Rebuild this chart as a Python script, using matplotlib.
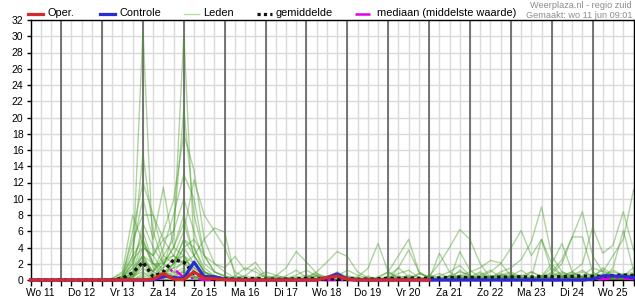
import numpy as np
import matplotlib
matplotlib.use("Agg")
import matplotlib.pyplot as plt
from matplotlib.lines import Line2D

plt.rcParams['font.family'] = ['Liberation Sans', 'DejaVu Sans']

# time axis: hours after Wo 11 00:00, 6-hourly steps
hours = list(range(6, 361, 6))
day_labels = ["Wo 11", "Do 12", "Vr 13", "Za 14", "Zo 15", "Ma 16", "Di 17", "Wo 18",
              "Do 19", "Vr 20", "Za 21", "Zo 22", "Ma 23", "Di 24", "Wo 25"]

# ---- ensemble members (mm), rows of 12 values = 3 days each ----
m01 = [0, 0, 0, 0, 0, 0, 0, 0, 0, 0.3, 2.0, 30.7,
       3.0, 1.0, 0.5, 1.2, 0.4, 0.2, 0, 0, 0.3, 0.5, 0.2, 0,
       0, 0.2, 0.4, 0, 0, 0, 0.1, 0, 0, 0, 0.2, 0,
       0, 0.3, 0, 0, 0.5, 1.0, 0.2, 0, 0, 0.4, 0.8, 0.3,
       0, 0.5, 0.2, 0, 0, 0.6, 1.2, 0.4, 0, 0.3, 0.8, 0.5]
m02 = [0, 0, 0, 0, 0, 0, 0, 0, 0, 0, 0.5, 2.5,
       1.0, 3.0, 5.0, 30.2, 4.0, 1.5, 0.5, 0.2, 0, 0, 0.2, 0.1,
       0, 0, 0.3, 0.6, 0.2, 0, 0, 0, 0, 0.3, 0, 0,
       1.5, 0.4, 0, 0, 0, 0.5, 0.3, 0, 0.2, 0, 0, 0.6,
       0.4, 0, 0, 0.8, 0.3, 0, 0, 0.5, 0.2, 0, 0.6, 1.0]
m03 = [0, 0, 0, 0, 0, 0, 0, 0, 0, 0.5, 3.0, 15.5,
       6.0, 2.0, 4.0, 8.0, 3.0, 1.0, 0.3, 0, 0, 0.2, 0, 0,
       0, 0.5, 1.2, 0.3, 0, 0, 0, 0, 0.2, 0, 0, 0.4,
       0.2, 0, 0, 0.6, 0.3, 0, 0, 0.3, 0.8, 0.2, 0, 0,
       0, 1.0, 0.5, 0.2, 0, 0, 0.4, 0.3, 1.5, 0.6, 0.2, 0.4]
m04 = [0, 0, 0, 0, 0, 0, 0, 0, 0, 0, 1.0, 5.0,
       2.0, 1.5, 6.0, 21.0, 8.0, 3.0, 1.0, 0.5, 0.2, 0, 0, 0,
       0.3, 0, 0, 0.2, 0.5, 0.2, 0, 0, 0, 0, 0.4, 1.0,
       0.3, 0, 0, 0.2, 0, 0, 1.2, 0.4, 0, 0, 0.5, 0.2,
       0, 0, 0.5, 0.3, 0, 0.8, 0.4, 0, 0.3, 0.5, 0.2, 0]
m05 = [0, 0, 0, 0, 0, 0, 0, 0, 0, 0.2, 6.0, 12.0,
       8.0, 5.0, 3.0, 2.0, 1.5, 0.5, 0, 0, 0, 0.5, 1.5, 0.3,
       0, 0, 0, 0.4, 0.8, 0.3, 0, 0, 0, 0, 0, 0.3,
       0.8, 1.2, 0.3, 0, 0, 0, 0.4, 0, 0.6, 1.2, 0.3, 0,
       0.2, 0.3, 0, 0, 0.5, 1.0, 0.3, 0, 0, 0.2, 0.5, 1.5]
m06 = [0, 0, 0, 0, 0, 0, 0, 0, 0, 0, 0.5, 4.0,
       3.0, 6.0, 9.8, 18.0, 13.5, 5.0, 2.0, 1.0, 0.3, 0, 0, 0,
       0, 0.3, 0, 0, 0.2, 0.5, 0.3, 0, 0, 0, 0, 0.2,
       0, 0, 0.8, 0.3, 0, 0, 0, 0.4, 0.2, 0, 0.3, 0.5,
       1.2, 0.4, 0, 0, 0.3, 0, 0, 0.6, 0.2, 0.4, 0, 0.3]
m07 = [0, 0, 0, 0, 0, 0, 0, 0, 0, 0.5, 4.0, 10.0,
       5.0, 11.4, 4.0, 3.0, 2.0, 0.8, 0.3, 0, 0, 0, 0.3, 0.5,
       0.2, 0, 0, 0, 0, 0.3, 0.6, 0.2, 0, 0, 0, 0,
       0, 0, 0.2, 0, 0, 0.5, 0, 0, 0, 0.3, 0.6, 1.0,
       0.4, 0, 0.3, 0.2, 0, 0, 0.3, 0.8, 0.4, 0, 0, 0.6]
m08 = [0, 0, 0, 0, 0, 0, 0, 0, 0, 0, 0.3, 2.0,
       1.0, 4.0, 8.0, 13.0, 10.0, 3.0, 1.0, 0.4, 0, 0.2, 0, 0,
       0, 0, 0, 0.2, 0, 0, 0, 0.4, 0.2, 0, 0.3, 0,
       0, 0.4, 0, 0, 0, 0, 0.2, 0.5, 0, 0, 0, 0.3,
       0.6, 0.2, 0, 0.4, 0.3, 0, 0, 0, 0.6, 0.3, 0.3, 0.2]
m09 = [0, 0, 0, 0, 0, 0, 0, 0, 0.2, 0.8, 5.0, 8.0,
       8.0, 3.0, 2.0, 5.0, 3.0, 1.0, 0.5, 0.2, 0, 0, 0, 0,
       0, 0, 0, 0, 0, 0, 0.2, 0.5, 0.3, 0, 0, 0,
       0, 0, 0, 0, 0.3, 0.2, 0, 0, 0, 0, 0.2, 0.4,
       0.3, 0, 0, 0, 0, 0.4, 0.2, 0, 0.3, 0.5, 0, 0]
m10 = [0, 0, 0, 0, 0, 0, 0, 0, 0, 0, 0.8, 3.0,
       2.0, 2.0, 3.0, 6.0, 12.3, 8.0, 6.0, 4.0, 1.0, 0.3, 0, 0,
       0, 0, 0, 0, 0.5, 0.2, 0, 0, 0, 0, 0, 0,
       0, 0, 0, 0, 0, 0, 0, 0.2, 0, 0, 0, 0,
       0, 0, 0.3, 0, 0, 0, 0.2, 0, 0, 0, 0.2, 0.5]
m11 = [0, 0, 0, 0, 0, 0, 0, 0, 0, 0.3, 2.0, 6.0,
       2.0, 1.0, 1.5, 4.0, 2.0, 0.5, 0.2, 0, 0, 0, 0, 0.2,
       0.5, 0.3, 0, 0, 0, 0, 0, 0, 0, 0.2, 0, 0,
       0, 0, 0.3, 0, 0, 0.2, 0.5, 0.2, 0, 0.3, 1.0, 1.5,
       2.5, 4.7, 9.0, 3.0, 1.0, 0.5, 0.2, 0, 0.3, 1.0, 0.6, 0.2]
m12 = [0, 0, 0, 0, 0, 0, 0, 0, 0, 0, 1.5, 7.0,
       4.0, 2.0, 1.0, 0.5, 0.3, 0.2, 0, 0, 0, 0, 0, 0,
       0, 0, 0, 0.3, 0.6, 0.2, 0, 0, 0, 0.5, 0, 0,
       0, 0, 0, 0.5, 2.0, 4.0, 6.2, 5.0, 2.0, 0.3, 0, 0,
       0, 0, 0.4, 1.5, 0.5, 0, 0, 0.3, 0.6, 0.2, 0, 0.2]
m13 = [0, 0, 0, 0, 0, 0, 0, 0, 0.2, 1.0, 8.0, 4.5,
       2.0, 0.5, 2.0, 3.0, 1.0, 0.3, 0, 0, 0, 0, 0.3, 0,
       0, 0, 0, 0, 0, 0, 0, 0, 0.4, 1.4, 4.5, 1.0,
       0.2, 0, 0, 0, 0, 0, 0.3, 0.2, 0, 0, 0.3, 0.5,
       0.2, 0, 0.3, 1.0, 2.5, 5.3, 8.4, 3.0, 1.0, 0.5, 0.2, 0.8]
m14 = [0, 0, 0, 0, 0, 0, 0, 0, 0, 0.5, 3.0, 5.0,
       1.5, 0.5, 0.3, 1.0, 0.5, 0, 0, 0, 0, 0, 0, 0,
       0, 0, 0, 0, 0, 0, 0, 0.3, 0, 0, 0.2, 1.0,
       3.0, 5.0, 1.0, 0.2, 0, 0, 0, 0, 0.3, 0.5, 0, 0,
       0, 0.3, 0.5, 0, 0, 0.2, 0.5, 1.5, 1.0, 3.0, 5.0, 11.1]
m15 = [0, 0, 0, 0, 0, 0, 0, 0, 0, 0.2, 2.5, 4.0,
       3.0, 5.0, 6.0, 10.0, 6.0, 2.0, 1.0, 0.5, 0.2, 0, 0, 0,
       0, 0, 0, 0.2, 0, 0, 0, 0, 0, 0, 0, 0.3,
       0.5, 0.2, 0, 0, 0, 0.3, 0.6, 0.3, 0, 0, 0, 0.2,
       0.3, 0, 0, 0, 0.4, 1.0, 2.0, 6.5, 3.3, 4.3, 8.4, 3.7]
m16 = [0, 0, 0, 0, 0, 0, 0, 0, 0, 0, 1.0, 3.0,
       1.0, 0.5, 2.0, 5.0, 4.0, 1.0, 0.3, 0, 0, 0, 0, 0,
       0.5, 1.5, 3.5, 2.2, 0.8, 0.2, 0, 0, 0, 0, 0, 0,
       0, 0, 0, 0, 0.3, 0.5, 0.2, 0, 0.4, 1.0, 2.0, 3.9,
       6.1, 3.0, 5.0, 2.0, 0.5, 0.2, 0, 0, 0.3, 0.2, 0, 0]
m17 = [0, 0, 0, 0, 0, 0, 0, 0, 0, 0.3, 1.5, 3.0,
       0.5, 2.0, 4.0, 7.0, 3.0, 1.0, 0.5, 0.2, 0, 0, 0, 0,
       0, 0, 0, 0.3, 1.0, 2.2, 3.5, 2.9, 1.0, 0.3, 0, 0,
       0, 0, 0, 0, 0, 0, 0, 0, 0.2, 0.5, 0.3, 0,
       0, 0, 0, 0.5, 1.0, 0.4, 0, 0, 0.5, 1.2, 0.6, 0.3]
m18 = [0, 0, 0, 0, 0, 0, 0, 0, 0, 0, 0.5, 2.5,
       1.0, 2.5, 3.0, 2.0, 3.0, 5.0, 6.4, 5.9, 0.5, 0.2, 0, 0,
       0, 0, 0, 0, 0, 0, 0, 0, 0, 0, 0, 0.2,
       0.3, 0, 0.8, 0.4, 0, 0, 0, 0, 0, 0, 0, 0,
       0, 0, 0, 0, 0.2, 0.4, 0.2, 0, 0, 0, 0.3, 0.6]
m19 = [0, 0, 0, 0, 0, 0, 0, 0, 0, 0, 0.3, 2.0,
       0.5, 1.0, 2.0, 4.0, 5.0, 3.0, 2.0, 1.5, 2.9, 1.2, 2.2, 0.5,
       0.2, 0, 0, 0, 0, 0, 0, 0, 0, 0, 0, 0,
       0, 0.2, 0, 0, 3.3, 1.0, 1.8, 0.5, 0, 0, 0, 0,
       0, 0, 0, 0.3, 0.8, 0.3, 0, 0, 0, 0.2, 0.5, 0.2]
m20 = [0, 0, 0, 0, 0, 0, 0, 0, 0, 0, 0.2, 1.5,
       0.3, 0.5, 1.0, 2.5, 1.5, 0.5, 0.2, 0, 0, 0, 0, 0,
       0, 0, 0, 0, 0, 0, 0, 0, 0, 0, 0, 0.5,
       1.5, 3.7, 1.0, 0.3, 0, 0, 3.5, 1.2, 0.3, 0, 0.5, 0.8,
       0.3, 0.2, 5.0, 1.0, 0.3, 0, 0, 0.3, 0.8, 0.4, 0.2, 0.3]
m21 = [0, 0, 0, 0, 0, 0, 0, 0, 0, 0, 0.5, 1.0,
       0.3, 1.5, 2.5, 3.0, 1.0, 0.3, 0, 0, 0.5, 1.5, 1.0, 0.3,
       0, 0, 0, 0, 0, 0, 0, 0, 0, 0, 0, 0,
       0, 0, 0, 0, 0, 0, 0.5, 1.0, 1.5, 2.4, 2.1, 0.5,
       0.2, 0, 0.5, 2.0, 4.5, 1.0, 0.3, 0, 0, 0.3, 0.6, 0.4]
m22 = [0, 0, 0, 0, 0, 0, 0, 0, 0, 0, 0, 0.8,
       0.2, 0.5, 1.5, 2.0, 0.8, 0.3, 0, 0, 0, 0, 0, 0,
       0, 0.2, 0.6, 1.2, 0.5, 0, 0, 0, 0, 0, 0, 0,
       0, 0, 0, 0, 0, 0.5, 1.0, 0.6, 0.2, 0, 0, 0.3,
       0.5, 1.0, 0.3, 0.8, 2.0, 5.3, 5.3, 1.0, 0.3, 0, 0.2, 0.6]
m23 = [0, 0, 0, 0, 0, 0, 0, 0, 0, 0, 0, 0.5,
       0.2, 0.3, 0.8, 1.5, 0.5, 0, 0, 0, 0, 0, 0.3, 1.0,
       0.6, 0.2, 0, 0, 0, 0, 0.5, 1.2, 0.6, 0.2, 0, 0,
       0.2, 0.6, 0.3, 0, 0, 0, 0, 0.4, 1.0, 0.3, 0, 0,
       0, 0.3, 0.2, 0, 0, 0.4, 1.0, 0.5, 0.2, 1.5, 6.1, 1.2]
m24 = [0, 0, 0, 0, 0, 0, 0, 0, 0, 0, 0, 0.3,
       0, 0.2, 0.5, 1.0, 0.3, 0, 0, 0, 0, 0, 0, 0,
       0, 0, 0.2, 0, 0, 0.3, 1.0, 0.4, 0, 0, 0, 0,
       0, 0, 0, 0.3, 0.8, 0.3, 0, 0, 0, 0, 0, 0,
       0, 0, 0, 0, 0, 0, 0, 0.5, 1.2, 0.5, 0, 0.4]
m25 = [0, 0, 0, 0, 0, 0, 0, 0, 0, 0, 0, 0.2,
       0, 0, 0.3, 0.5, 0.2, 0, 0, 0, 0, 0, 0, 0,
       0, 0, 0, 0, 0, 0, 0, 0, 0, 0, 0, 0,
       0, 0, 0, 0, 0, 0, 0, 0, 0, 0.3, 0.6, 0.2,
       0, 0, 0, 0.2, 0, 0, 0, 0, 0, 0, 0.3, 0.8]
m26 = [0, 0, 0, 0, 0, 0, 0, 0, 0, 0, 0, 0,
       0, 0, 0, 0.2, 0, 0, 0, 0, 0, 0, 0, 0,
       0, 0, 0, 0, 0, 0, 0, 0, 0, 0, 0, 0,
       0, 0, 0, 0, 0, 0, 0, 0.3, 0.5, 0.2, 0, 0,
       0, 0, 0, 0, 0, 0.2, 0.4, 0, 0, 0, 0, 0]

# ---- summary series ----
mean = [0, 0, 0, 0, 0, 0, 0, 0, 0, 0.2, 0.9, 2.2,
        0.4, 1.0, 2.5, 2.2, 0.8, 0.4, 0.3, 0.15, 0.1, 0.15, 0.2, 0.1,
        0.1, 0.1, 0.15, 0.2, 0.15, 0.1, 0.15, 0.2, 0.1, 0.1, 0.15, 0.2,
        0.2, 0.25, 0.2, 0.2, 0.25, 0.3, 0.35, 0.3, 0.3, 0.3, 0.35, 0.35,
        0.4, 0.35, 0.45, 0.4, 0.4, 0.45, 0.5, 0.45, 0.45, 0.55, 0.6, 0.55]
median = [0, 0, 0, 0, 0, 0, 0, 0, 0, 0, 0, 0,
          0, 0.3, 1.4, 0.3, 0.2, 0, 0, 0, 0, 0, 0, 0,
          0, 0, 0, 0, 0, 0, 0, 0, 0, 0, 0, 0,
          0, 0, 0, 0, 0, 0, 0, 0, 0, 0, 0, 0,
          0, 0, 0, 0, 0, 0, 0, 0, 0.1, 0.2, 0.2, 0.1]
control = [0, 0, 0, 0, 0, 0, 0, 0, 0, 0, 0, 0,
           0, 0.5, 0.3, 0.2, 2.2, 0.4, 0.4, 0.1, 0.05, 0, 0, 0,
           0, 0, 0, 0, 0, 0.3, 0.75, 0.1, 0, 0, 0, 0,
           0, 0, 0, 0, 0, 0, 0, 0, 0, 0, 0, 0,
           0, 0, 0, 0, 0, 0, 0, 0.1, 0.5, 0.5, 0.45, 0.3]
oper = [0, 0, 0, 0, 0, 0, 0, 0, 0, 0, 0, 0,
        0.1, 0.8, 0.1, 0.05, 1.0, 0.2, 0.15, 0.05, 0, 0, 0, 0,
        0, 0, 0, 0, 0, 0.3, 0.5, 0.1, 0, 0, 0, 0,
        0, 0, 0, 0]

members = [m01, m02, m03, m04, m05, m06, m07, m08, m09, m10, m11, m12, m13,
           m14, m15, m16, m17, m18, m19, m20, m21, m22, m23, m24, m25, m26]

RED = '#d42a2a'
BLUE = '#2b2bd6'
MAG = '#e000e0'
GREEN = (0.26, 0.60, 0.12)

W, H = 635, 300
fig = plt.figure(figsize=(W / 100, H / 100), dpi=100)
ax = fig.add_axes([30.5 / W, 20 / H, 603 / W, 260 / H])
ax.set_xlim(6, 360)
ax.set_ylim(0, 32)

# grid
ax.set_xticks(hours, minor=True)
ax.set_xticks([12 + 24 * k for k in range(len(day_labels))])
ax.set_xticklabels(day_labels)
ax.set_yticks(range(0, 33, 2))
ax.grid(which='minor', axis='x', color='#dadada', lw=1.0)
ax.grid(which='major', axis='y', color='#dadada', lw=1.0)
ax.grid(which='major', axis='x', color='#dadada', lw=1.0)
ax.set_axisbelow(True)
for d in range(24, 360, 24):
    ax.axvline(d, color='#555555', lw=1.1, zorder=1.2)

ax.tick_params(axis='x', which='both', length=4, width=1, color='black',
               direction='out', labelsize=7.4, pad=2)
ax.tick_params(axis='y', length=3, width=1, color='black', direction='out',
               labelsize=7.5, pad=2)
for s in ax.spines.values():
    s.set_color('black')
    s.set_linewidth(1.0)

for m in members:
    ax.plot(hours, m, color=GREEN, alpha=0.42, lw=1.0, zorder=2, clip_on=False)

ax.plot(hours, median, color=MAG, lw=1.8, ls=(0, (5, 2, 1, 2)), zorder=3, clip_on=False)
ax.plot(hours, mean, color='#111111', lw=2.4, ls=(0, (1, 1)), dash_capstyle='butt',
        zorder=4, clip_on=False)
ax.plot(hours, control, color=BLUE, lw=2.3, zorder=5, clip_on=False)
ax.plot(hours[:len(oper)], oper, color=RED, lw=2.3, zorder=6, clip_on=False)

# legend row (figure pixel layout)
def fx(px):
    return px / W

def fy(py):
    return 1 - py / H

ly = 13.5
items = [
    (28, 43, dict(color=RED, lw=2.3), "Oper."),
    (100, 115, dict(color=BLUE, lw=2.3), "Controle"),
    (184, 199, dict(color=(0.72, 0.86, 0.66), lw=1.0), "Leden"),
    (257, 272, dict(color='#111111', lw=2.3, ls=(0, (1, 1)), dash_capstyle='butt'), "gemiddelde"),
    (355, 373, dict(color=MAG, lw=1.8, ls=(0, (6, 2, 1, 2))), "mediaan (middelste waarde)"),
]
for x0, x1, st, lab in items:
    fig.add_artist(Line2D([fx(x0), fx(x1)], [fy(ly), fy(ly)], transform=fig.transFigure, **st))
    fig.text(fx(x1 + 4), fy(ly), lab, ha='left', va='center', fontsize=7.9, color='black')

fig.text(fx(632), fy(5), "Weerplaza.nl - regio zuid", ha='right', va='center',
         fontsize=6.6, color='#8c8c8c')
fig.text(fx(632), fy(15), "Gemaakt: wo 11 jun 09:01", ha='right', va='center',
         fontsize=6.6, color='#8c8c8c')

fig.savefig('out.png', dpi=100)
